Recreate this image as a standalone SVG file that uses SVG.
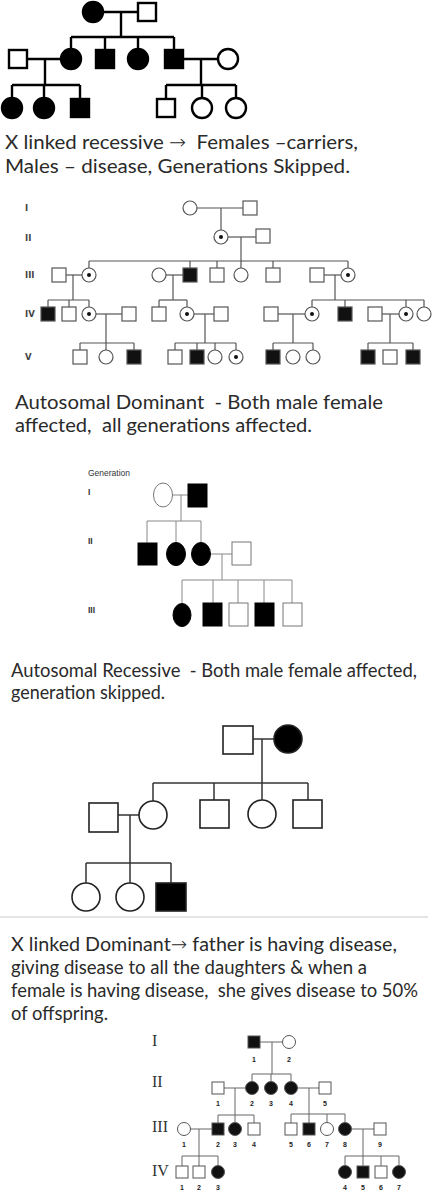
<svg xmlns="http://www.w3.org/2000/svg" width="437" height="1200" viewBox="0 0 437 1200">
<style>
.bg{fill:#fff}
.t{font-family:Lato,"Open Sans","Noto Sans",sans-serif;font-size:19.5px;font-weight:400;fill:#2a2a2a;white-space:pre}
.t2{font-size:18.6px}
.ar{font-family:"DejaVu Sans",sans-serif;font-weight:200}
.a rect,.a circle{fill:#fff;stroke:#000;stroke-width:2.4}
.a .f{fill:#000}
.ca line{stroke:#000;stroke-width:2.4}
.b rect,.b circle{fill:#fff;stroke:#555;stroke-width:1.2}
.b .f{fill:#111}
.b .dot{fill:#111;stroke:none}
.cb line{stroke:#555;stroke-width:1.2}
.c rect,.c ellipse{fill:#fff;stroke:#777;stroke-width:1}
.c .f{fill:#000;stroke:#000}
.cc line{stroke:#888;stroke-width:1}
.d rect,.d circle{fill:#fff;stroke:#222;stroke-width:1.6}
.d .f{fill:#000}
.cd line{stroke:#333;stroke-width:1.5}
.e rect,.e circle{fill:#fff;stroke:#555;stroke-width:1}
.e .f{fill:#111}
.ce line{stroke:#666;stroke-width:1}
.rn{font-family:"DejaVu Sans",sans-serif;font-size:8.5px;font-weight:bold;fill:#444}
.gl{font-family:"Liberation Sans",Arial,sans-serif;font-size:8.5px;fill:#333}
.gr{font-family:"Liberation Sans",Arial,sans-serif;font-size:8.5px;font-weight:bold;fill:#333}
.rs{font-family:"Liberation Serif","Times New Roman",serif;font-size:16px;fill:#333}
.nl{font-family:"Liberation Sans",Arial,sans-serif;font-size:7px;font-weight:bold;fill:#222;text-anchor:middle}
</style>
<rect class="bg" x="0" y="0" width="437" height="1200"/>

<!-- Pedigree 1 -->
<g class="ca" id="p1-connectors">
<line x1="103" y1="12" x2="138" y2="12"/><line x1="121" y1="12" x2="121" y2="37"/>
<line x1="71" y1="37" x2="174" y2="37"/>
<line x1="71" y1="37" x2="71" y2="49"/><line x1="105" y1="37" x2="105" y2="50"/>
<line x1="138" y1="37" x2="138" y2="49"/><line x1="174" y1="37" x2="174" y2="50"/>
<line x1="27" y1="59" x2="61" y2="59"/><line x1="45" y1="59" x2="45" y2="85"/>
<line x1="12" y1="85" x2="80" y2="85"/>
<line x1="12" y1="85" x2="12" y2="98"/><line x1="44" y1="85" x2="44" y2="98"/><line x1="80" y1="85" x2="80" y2="99"/>
<line x1="183" y1="59" x2="218" y2="59"/><line x1="201" y1="59" x2="201" y2="85"/>
<line x1="166" y1="85" x2="236" y2="85"/>
<line x1="166" y1="85" x2="166" y2="99"/><line x1="202" y1="85" x2="202" y2="98"/><line x1="236" y1="85" x2="236" y2="98"/>
</g>
<g class="a">
<g id="p1-I1"><circle class="f" cx="93" cy="12" r="10"/></g>
<g id="p1-I2"><rect x="138" y="3" width="18" height="18"/></g>
<g id="p1-II1"><rect x="9" y="50" width="18" height="18"/></g>
<g id="p1-II2"><circle class="f" cx="71" cy="59" r="10"/></g>
<g id="p1-II3"><rect class="f" x="96" y="50" width="18" height="18"/></g>
<g id="p1-II4"><circle class="f" cx="138" cy="59" r="10"/></g>
<g id="p1-II5"><rect class="f" x="165" y="50" width="18" height="18"/></g>
<g id="p1-II6"><circle cx="228" cy="59" r="10"/></g>
<g id="p1-III1"><circle class="f" cx="12" cy="108" r="10"/></g>
<g id="p1-III2"><circle class="f" cx="44" cy="108" r="10"/></g>
<g id="p1-III3"><rect class="f" x="71" y="99" width="18" height="18"/></g>
<g id="p1-III4"><rect x="157" y="99" width="18" height="18"/></g>
<g id="p1-III5"><circle cx="202" cy="108" r="10"/></g>
<g id="p1-III6"><circle cx="236" cy="108" r="10"/></g>
</g>

<g id="text1">
<text class="t" x="5" y="149" textLength="353" lengthAdjust="spacingAndGlyphs">X linked recessive <tspan class="ar">→</tspan>  Females –carriers,</text>
<text class="t" x="5" y="173" textLength="345" lengthAdjust="spacingAndGlyphs">Males – disease, Generations Skipped.</text>
</g>

<!-- Pedigree 2 -->
<g id="p2-labels">
<text class="rn" x="25" y="211">I</text>
<text class="rn" x="25" y="241">II</text>
<text class="rn" x="25" y="278">III</text>
<text class="rn" x="25" y="317">IV</text>
<text class="rn" x="25" y="360">V</text>
</g>
<g class="cb" id="p2-connectors">
<line x1="197" y1="208" x2="243" y2="208"/><line x1="221" y1="208" x2="221" y2="230"/>
<line x1="228" y1="237" x2="256" y2="237"/><line x1="241" y1="237" x2="241" y2="261"/>
<line x1="89" y1="261" x2="348" y2="261"/>
<line x1="89" y1="261" x2="89" y2="268"/><line x1="190" y1="261" x2="190" y2="268"/>
<line x1="217" y1="261" x2="217" y2="268"/><line x1="241" y1="261" x2="241" y2="268"/>
<line x1="273" y1="261" x2="273" y2="268"/><line x1="348" y1="261" x2="348" y2="268"/>
<line x1="66" y1="275" x2="82" y2="275"/><line x1="73" y1="275" x2="73" y2="300"/>
<line x1="166" y1="275" x2="183" y2="275"/><line x1="173" y1="275" x2="173" y2="300"/>
<line x1="324" y1="275" x2="341" y2="275"/><line x1="335" y1="275" x2="335" y2="300"/>
<line x1="48" y1="300" x2="89" y2="300"/>
<line x1="48" y1="300" x2="48" y2="307"/><line x1="69" y1="300" x2="69" y2="307"/><line x1="89" y1="300" x2="89" y2="307"/>
<line x1="159" y1="300" x2="187" y2="300"/>
<line x1="159" y1="300" x2="159" y2="307"/><line x1="187" y1="300" x2="187" y2="307"/>
<line x1="312" y1="300" x2="424" y2="300"/>
<line x1="312" y1="300" x2="312" y2="307"/><line x1="345" y1="300" x2="345" y2="307"/>
<line x1="406" y1="300" x2="406" y2="307"/><line x1="424" y1="300" x2="424" y2="307"/>
<line x1="96" y1="314" x2="122" y2="314"/><line x1="106" y1="314" x2="106" y2="343"/>
<line x1="194" y1="314" x2="214" y2="314"/><line x1="205" y1="314" x2="205" y2="343"/>
<line x1="278" y1="314" x2="305" y2="314"/><line x1="293" y1="314" x2="293" y2="343"/>
<line x1="382" y1="314" x2="399" y2="314"/><line x1="390" y1="314" x2="390" y2="343"/>
<line x1="80" y1="343" x2="134" y2="343"/>
<line x1="80" y1="343" x2="80" y2="350"/><line x1="106" y1="343" x2="106" y2="350"/><line x1="134" y1="343" x2="134" y2="350"/>
<line x1="175" y1="343" x2="236" y2="343"/>
<line x1="175" y1="343" x2="175" y2="350"/><line x1="197" y1="343" x2="197" y2="350"/>
<line x1="215" y1="343" x2="215" y2="350"/><line x1="236" y1="343" x2="236" y2="350"/>
<line x1="273" y1="343" x2="313" y2="343"/>
<line x1="273" y1="343" x2="273" y2="350"/><line x1="313" y1="343" x2="313" y2="350"/>
<line x1="368" y1="343" x2="413" y2="343"/>
<line x1="368" y1="343" x2="368" y2="350"/><line x1="413" y1="343" x2="413" y2="350"/>
</g>
<g class="b">
<g id="p2-I1"><circle cx="190" cy="208" r="7"/></g>
<g id="p2-I2"><rect x="243" y="201" width="14" height="14"/></g>
<g id="p2-II1"><circle cx="221" cy="237" r="7"/><circle class="dot" cx="221" cy="237" r="2"/></g>
<g id="p2-II2"><rect x="256" y="229" width="14" height="14"/></g>
<g id="p2-III1"><rect x="52" y="268" width="14" height="14"/></g>
<g id="p2-III2"><circle cx="89" cy="275" r="7"/><circle class="dot" cx="89" cy="275" r="2"/></g>
<g id="p2-III3"><circle cx="159" cy="275" r="7"/></g>
<g id="p2-III4"><rect class="f" x="183" y="268" width="14" height="14"/></g>
<g id="p2-III5"><rect x="210" y="268" width="14" height="14"/></g>
<g id="p2-III6"><circle cx="241" cy="275" r="7"/></g>
<g id="p2-III7"><rect x="266" y="268" width="14" height="14"/></g>
<g id="p2-III8"><rect x="310" y="268" width="14" height="14"/></g>
<g id="p2-III9"><circle cx="348" cy="275" r="7"/><circle class="dot" cx="348" cy="275" r="2"/></g>
<g id="p2-IV1"><rect class="f" x="41" y="307" width="14" height="14"/></g>
<g id="p2-IV2"><rect x="62" y="307" width="14" height="14"/></g>
<g id="p2-IV3"><circle cx="89" cy="314" r="7"/><circle class="dot" cx="89" cy="314" r="2"/></g>
<g id="p2-IV4"><rect x="122" y="307" width="14" height="14"/></g>
<g id="p2-IV5"><rect x="152" y="307" width="14" height="14"/></g>
<g id="p2-IV6"><circle cx="187" cy="314" r="7"/><circle class="dot" cx="187" cy="314" r="2"/></g>
<g id="p2-IV7"><rect x="214" y="307" width="14" height="14"/></g>
<g id="p2-IV8"><rect x="264" y="307" width="14" height="14"/></g>
<g id="p2-IV9"><circle cx="312" cy="314" r="7"/><circle class="dot" cx="312" cy="314" r="2"/></g>
<g id="p2-IV10"><rect class="f" x="338" y="307" width="14" height="14"/></g>
<g id="p2-IV11"><rect x="368" y="307" width="14" height="14"/></g>
<g id="p2-IV12"><circle cx="406" cy="314" r="7"/><circle class="dot" cx="406" cy="314" r="2"/></g>
<g id="p2-IV13"><circle cx="424" cy="314" r="7"/></g>
<g id="p2-V1"><rect x="73" y="350" width="14" height="14"/></g>
<g id="p2-V2"><circle cx="106" cy="357" r="7"/></g>
<g id="p2-V3"><rect class="f" x="127" y="350" width="14" height="14"/></g>
<g id="p2-V4"><rect x="168" y="350" width="14" height="14"/></g>
<g id="p2-V5"><rect class="f" x="190" y="350" width="14" height="14"/></g>
<g id="p2-V6"><circle cx="215" cy="357" r="7"/></g>
<g id="p2-V7"><circle cx="236" cy="357" r="7"/><circle class="dot" cx="236" cy="357" r="2"/></g>
<g id="p2-V8"><rect class="f" x="266" y="350" width="14" height="14"/></g>
<g id="p2-V9"><circle cx="293" cy="357" r="7"/></g>
<g id="p2-V10"><circle cx="313" cy="357" r="7"/></g>
<g id="p2-V11"><rect class="f" x="361" y="350" width="14" height="14"/></g>
<g id="p2-V12"><rect x="383" y="350" width="14" height="14"/></g>
<g id="p2-V13"><rect class="f" x="406" y="350" width="14" height="14"/></g>
</g>

<g id="text2">
<text class="t" x="15" y="409" textLength="368" lengthAdjust="spacingAndGlyphs">Autosomal Dominant  - Both male female</text>
<text class="t" x="15" y="432" textLength="297" lengthAdjust="spacingAndGlyphs">affected,  all generations affected.</text>
</g>

<!-- Pedigree 3 -->
<g id="p3-labels">
<text class="gl" x="88" y="476">Generation</text>
<text class="gr" x="88" y="495">I</text>
<text class="gr" x="88" y="544">II</text>
<text class="gr" x="88" y="613">III</text>
</g>
<g class="cc" id="p3-connectors">
<line x1="172.5" y1="495" x2="188" y2="495"/><line x1="181" y1="495" x2="181" y2="521"/>
<line x1="147" y1="521" x2="201" y2="521"/>
<line x1="147" y1="521" x2="147" y2="543"/><line x1="176" y1="521" x2="176" y2="542.5"/><line x1="201" y1="521" x2="201" y2="542.5"/>
<line x1="210.5" y1="554" x2="232" y2="554"/><line x1="222" y1="554" x2="222" y2="580"/>
<line x1="182" y1="580" x2="292" y2="580"/>
<line x1="182" y1="580" x2="182" y2="603.5"/><line x1="213" y1="580" x2="213" y2="603"/>
<line x1="238" y1="580" x2="238" y2="603"/><line x1="264" y1="580" x2="264" y2="603"/>
<line x1="292" y1="580" x2="292" y2="603"/>
</g>
<g class="c">
<g id="p3-I1"><ellipse cx="163" cy="495" rx="9.5" ry="12"/></g>
<g id="p3-I2"><rect class="f" x="188" y="484" width="19" height="23"/></g>
<g id="p3-II1"><rect class="f" x="138" y="543" width="19" height="22"/></g>
<g id="p3-II2"><ellipse class="f" cx="176" cy="554" rx="9.5" ry="11.5"/></g>
<g id="p3-II3"><ellipse class="f" cx="201" cy="554" rx="9.5" ry="11.5"/></g>
<g id="p3-II4"><rect x="232" y="542" width="19" height="23"/></g>
<g id="p3-III1"><ellipse class="f" cx="182" cy="615" rx="9" ry="11.5"/></g>
<g id="p3-III2"><rect class="f" x="203" y="603" width="19" height="23"/></g>
<g id="p3-III3"><rect x="229" y="603" width="19" height="23"/></g>
<g id="p3-III4"><rect class="f" x="255" y="603" width="19" height="23"/></g>
<g id="p3-III5"><rect x="283" y="603" width="19" height="23"/></g>
</g>

<g id="text3">
<text class="t t2" x="11" y="677" textLength="406" lengthAdjust="spacingAndGlyphs">Autosomal Recessive  - Both male female affected,</text>
<text class="t" x="11" y="699" textLength="154" lengthAdjust="spacingAndGlyphs">generation skipped.</text>
</g>

<!-- Pedigree 4 -->
<g class="cd" id="p4-connectors">
<line x1="253" y1="739" x2="274" y2="739"/><line x1="262" y1="739" x2="262" y2="783"/>
<line x1="153" y1="783" x2="308" y2="783"/>
<line x1="153" y1="783" x2="153" y2="801"/><line x1="214" y1="783" x2="214" y2="800"/>
<line x1="262" y1="783" x2="262" y2="800"/><line x1="308" y1="783" x2="308" y2="800"/>
<line x1="118" y1="815" x2="139" y2="815"/><line x1="130" y1="815" x2="130" y2="883"/>
<line x1="86" y1="863" x2="171" y2="863"/>
<line x1="86" y1="863" x2="86" y2="883"/><line x1="171" y1="863" x2="171" y2="883"/>
</g>
<g class="d">
<g id="p4-I1"><rect x="223" y="726" width="30" height="28"/></g>
<g id="p4-I2"><circle class="f" cx="288" cy="739" r="14"/></g>
<g id="p4-II1"><rect x="89" y="803" width="29" height="29"/></g>
<g id="p4-II2"><circle cx="153" cy="815" r="14"/></g>
<g id="p4-II3"><rect x="200" y="800" width="29" height="28"/></g>
<g id="p4-II4"><circle cx="262" cy="814" r="14"/></g>
<g id="p4-II5"><rect x="293" y="800" width="29" height="28"/></g>
<g id="p4-III1"><circle cx="86" cy="897" r="14"/></g>
<g id="p4-III2"><circle cx="130" cy="897" r="14"/></g>
<g id="p4-III3"><rect class="f" x="156" y="883" width="30" height="28"/></g>
</g>

<line id="separator" x1="0" y1="917" x2="428" y2="917" stroke="#dcdcdc" stroke-width="1.5"/>

<g id="text4">
<text class="t" x="11" y="951" textLength="386" lengthAdjust="spacingAndGlyphs">X linked Dominant<tspan class="ar">→</tspan> father is having disease,</text>
<text class="t" x="11" y="974" textLength="356" lengthAdjust="spacingAndGlyphs">giving disease to all the daughters &amp; when a</text>
<text class="t t2" x="11" y="997" textLength="407" lengthAdjust="spacingAndGlyphs">female is having disease,  she gives disease to 50%</text>
<text class="t" x="11" y="1020" textLength="97" lengthAdjust="spacingAndGlyphs">of offspring.</text>
</g>

<!-- Pedigree 5 -->
<g id="p5-labels">
<text class="rs" x="152" y="1046">I</text>
<text class="rs" x="152" y="1087">II</text>
<text class="rs" x="152" y="1132">III</text>
<text class="rs" x="152" y="1176">IV</text>
</g>
<g class="ce" id="p5-connectors">
<line x1="260" y1="1042" x2="282.5" y2="1042"/><line x1="272" y1="1042" x2="272" y2="1074"/>
<line x1="252" y1="1074" x2="291" y2="1074"/>
<line x1="252" y1="1074" x2="252" y2="1081.5"/><line x1="271" y1="1074" x2="271" y2="1081.5"/><line x1="291" y1="1074" x2="291" y2="1081.5"/>
<line x1="224" y1="1088" x2="245.5" y2="1088"/><line x1="235" y1="1088" x2="235" y2="1115"/>
<line x1="218" y1="1115" x2="254" y2="1115"/>
<line x1="218" y1="1115" x2="218" y2="1123"/><line x1="235" y1="1115" x2="235" y2="1122.5"/><line x1="254" y1="1115" x2="254" y2="1123"/>
<line x1="297.5" y1="1088" x2="319" y2="1088"/><line x1="309" y1="1088" x2="309" y2="1114"/>
<line x1="291" y1="1114" x2="345" y2="1114"/>
<line x1="291" y1="1114" x2="291" y2="1123"/><line x1="309" y1="1114" x2="309" y2="1123"/>
<line x1="327" y1="1114" x2="327" y2="1122.5"/><line x1="345" y1="1114" x2="345" y2="1122.5"/>
<line x1="190.5" y1="1129" x2="212" y2="1129"/><line x1="199" y1="1129" x2="199" y2="1156"/>
<line x1="182" y1="1156" x2="218" y2="1156"/>
<line x1="182" y1="1156" x2="182" y2="1166"/><line x1="199" y1="1156" x2="199" y2="1166"/><line x1="218" y1="1156" x2="218" y2="1165.5"/>
<line x1="351.5" y1="1129" x2="374" y2="1129"/><line x1="363" y1="1129" x2="363" y2="1156"/>
<line x1="345" y1="1156" x2="399" y2="1156"/>
<line x1="345" y1="1156" x2="345" y2="1165.5"/><line x1="363" y1="1156" x2="363" y2="1166"/>
<line x1="381" y1="1156" x2="381" y2="1166"/><line x1="399" y1="1156" x2="399" y2="1165.5"/>
</g>
<g class="e">
<g id="p5-I1"><rect class="f" x="248" y="1036" width="12" height="12"/><text class="nl" x="254" y="1062">1</text></g>
<g id="p5-I2"><circle cx="289" cy="1042" r="6.5"/><text class="nl" x="289" y="1062">2</text></g>
<g id="p5-II1"><rect x="212" y="1082" width="12" height="12"/><text class="nl" x="218" y="1106">1</text></g>
<g id="p5-II2"><circle class="f" cx="252" cy="1088" r="6.5"/><text class="nl" x="252" y="1106">2</text></g>
<g id="p5-II3"><circle class="f" cx="271" cy="1088" r="6.5"/><text class="nl" x="271" y="1106">3</text></g>
<g id="p5-II4"><circle class="f" cx="291" cy="1088" r="6.5"/><text class="nl" x="291" y="1106">4</text></g>
<g id="p5-II5"><rect x="319" y="1082" width="12" height="12"/><text class="nl" x="325" y="1106">5</text></g>
<g id="p5-III1"><circle cx="184" cy="1129" r="6.5"/><text class="nl" x="184" y="1147">1</text></g>
<g id="p5-III2"><rect class="f" x="212" y="1123" width="12" height="12"/><text class="nl" x="218" y="1147">2</text></g>
<g id="p5-III3"><circle class="f" cx="235" cy="1129" r="6.5"/><text class="nl" x="235" y="1147">3</text></g>
<g id="p5-III4"><rect x="248" y="1123" width="12" height="12"/><text class="nl" x="254" y="1147">4</text></g>
<g id="p5-III5"><rect x="285" y="1123" width="12" height="12"/><text class="nl" x="291" y="1147">5</text></g>
<g id="p5-III6"><rect class="f" x="303" y="1123" width="12" height="12"/><text class="nl" x="309" y="1147">6</text></g>
<g id="p5-III7"><circle cx="327" cy="1129" r="6.5"/><text class="nl" x="327" y="1147">7</text></g>
<g id="p5-III8"><circle class="f" cx="345" cy="1129" r="6.5"/><text class="nl" x="345" y="1147">8</text></g>
<g id="p5-III9"><rect x="374" y="1123" width="12" height="12"/><text class="nl" x="380" y="1147">9</text></g>
<g id="p5-IV1"><rect x="176" y="1166" width="12" height="12"/><text class="nl" x="182" y="1190">1</text></g>
<g id="p5-IV2"><rect x="193" y="1166" width="12" height="12"/><text class="nl" x="199" y="1190">2</text></g>
<g id="p5-IV3"><circle class="f" cx="218" cy="1172" r="6.5"/><text class="nl" x="218" y="1190">3</text></g>
<g id="p5-IV4"><circle class="f" cx="345" cy="1172" r="6.5"/><text class="nl" x="345" y="1190">4</text></g>
<g id="p5-IV5"><rect class="f" x="357" y="1166" width="12" height="12"/><text class="nl" x="363" y="1190">5</text></g>
<g id="p5-IV6"><rect x="375" y="1166" width="12" height="12"/><text class="nl" x="381" y="1190">6</text></g>
<g id="p5-IV7"><circle class="f" cx="399" cy="1172" r="6.5"/><text class="nl" x="399" y="1190">7</text></g>
</g>
</svg>
